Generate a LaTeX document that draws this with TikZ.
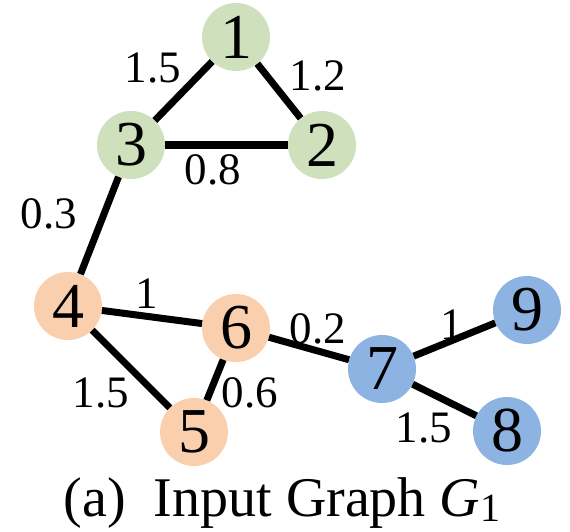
\documentclass[tikz,border=0pt]{standalone}
\usepackage{fontspec}
\setmainfont{Liberation Serif}
\usepackage{xcolor}
\usetikzlibrary{positioning}

\definecolor{grn}{HTML}{CFE0BC}
\definecolor{org}{HTML}{F9CFAE}
\definecolor{blu}{HTML}{8DB3E2}

\begin{document}
\begin{tikzpicture}[x=1pt,y=-1pt,
  vert/.style={circle,minimum size=68pt,inner sep=0pt,font=\fontsize{64}{66}\selectfont},
  edge/.style={line width=7pt},
  wt/.style={font=\fontsize{45}{47}\selectfont,inner sep=0pt}]
  \useasboundingbox (0,0) rectangle (570,532);
  % vertices
  \node[vert,fill=grn] (v1) at (236,37) {1};
  \node[vert,fill=grn] (v2) at (322,145) {2};
  \node[vert,fill=grn] (v3) at (131,145) {3};
  \node[vert,fill=org] (v4) at (68,306) {4};
  \node[vert,fill=org] (v5) at (194,432) {5};
  \node[vert,fill=org] (v6) at (236,328) {6};
  \node[vert,fill=blu] (v7) at (382,369) {7};
  \node[vert,fill=blu] (v8) at (507,431) {8};
  \node[vert,fill=blu] (v9) at (527,310) {9};
  % edges
  \draw[edge] (v1) -- (v3); \draw[edge] (v1) -- (v2);
  \draw[edge] (v3) -- (v2); \draw[edge] (v3) -- (v4);
  \draw[edge] (v4) -- (v6); \draw[edge] (v4) -- (v5);
  \draw[edge] (v6) -- (v5); \draw[edge] (v6) -- (v7);
  \draw[edge] (v7) -- (v9); \draw[edge] (v7) -- (v8);
  % weights
  \node[wt] (w13) at (153,68) {1.5};
  \node[wt] (w12) at (318,76) {1.2};
  \node[wt] (w32) at (213,170) {0.8};
  \node[wt] (w34) at (49,214) {0.3};
  \node[wt] (w46) at (147,294) {1};
  \node[wt] (w45) at (101,393) {1.5};
  \node[wt] (w65) at (250,393) {0.6};
  \node[wt] (w67) at (318,329) {0.2};
  \node[wt] (w79) at (452,325) {1};
  \node[wt] (w78) at (424,428) {1.5};
  % caption
  \node[font=\fontsize{56}{58}\selectfont,inner sep=0pt,anchor=base] (cap) at (282,516)
    {(a)\hspace{0.5em}Input Graph \textit{G}\raisebox{-0.2ex}{\fontsize{40}{40}\selectfont 1}};
\end{tikzpicture}
\end{document}
